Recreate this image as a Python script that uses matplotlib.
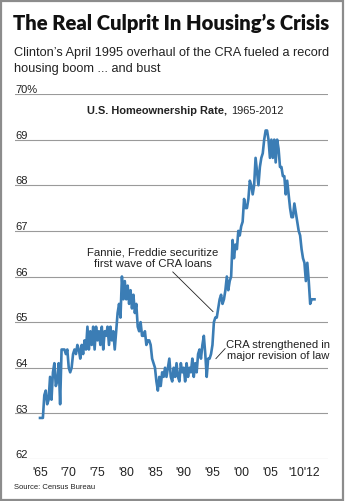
import numpy as np
import matplotlib.pyplot as plt
from matplotlib.patches import Rectangle

# quarterly homeownership rate (%), Census Bureau
rate_60s = [62.9, 62.9, 62.9, 63.4,  63.5, 63.2, 63.3, 63.8,  63.3, 63.9, 64.1, 63.6,
            63.7, 64.1, 63.2, 64.4,  64.4, 64.4, 64.3, 64.4]
rate_70s = [64.0, 63.9, 64.0, 64.3,  64.4, 64.3, 64.5, 64.4,  64.2, 64.5, 64.3, 64.6,
            64.4, 64.9, 64.4, 64.8,  64.5, 64.9, 64.4, 64.9,  64.6, 64.8, 64.5, 64.9,
            64.4, 64.8, 64.7, 64.9,  64.5, 64.9, 64.6, 64.8,  64.4, 64.8, 65.2, 65.4,
            65.1, 66.0, 65.5, 65.9]
rate_80s = [65.5, 65.8, 65.4, 65.7,  65.3, 65.6, 65.2, 65.4,  64.9, 64.8, 65.0, 64.7,
            64.7, 64.8, 64.5, 64.6,  64.6, 64.5, 64.2, 64.1,  64.0, 63.7, 63.5, 63.8,
            63.6, 63.9, 63.8, 64.0,  63.8, 64.0, 64.2, 63.8,  63.7, 64.0, 63.8, 64.1,
            63.8, 63.7, 64.1, 63.9]
rate_90s = [64.0, 63.7, 64.1, 63.8,  64.0, 63.9, 64.2, 63.8,  64.1, 63.9, 64.3, 64.4,
            64.2, 64.5, 64.7, 64.3,  63.8, 64.2, 64.2, 64.3,  64.5, 65.0, 65.1, 65.1,
            65.3, 65.5, 65.6, 65.4,  65.5, 65.7, 66.0, 65.7,  65.9, 66.0, 66.8, 66.4,
            66.7, 66.6, 67.0, 66.9]
rate_00s = [67.1, 67.2, 67.7, 67.5,  67.5, 67.7, 68.1, 68.0,  67.8, 68.0, 68.6, 68.3,
            68.0, 68.4, 68.6, 68.7,  69.0, 69.2, 69.2, 69.0,  68.6, 69.0, 68.6, 69.0,
            68.5, 69.0, 68.8, 68.4,  68.4, 68.2, 68.2, 67.8,  68.1, 67.8, 67.5, 67.3,
            67.3, 67.6, 67.4, 67.2]
rate_10s = [67.0, 66.9, 66.6, 66.4,  66.3, 65.9, 66.3, 65.9,  65.4, 65.5, 65.5, 65.5]

rate = np.array(rate_60s + rate_70s + rate_80s + rate_90s + rate_00s + rate_10s)
quarters = 1965 + np.arange(len(rate)) / 4

# the last two years share one label
tick_years = [1965, 1970, 1975, 1980, 1985, 1990, 1995, 2000, 2005, 2011]
tick_labels = ["'65", "'70", "'75", "'80", "'85", "'90", "'95", "'00", "'05", "'10'12"]
grid_levels = [62, 63, 64, 65, 66, 67, 68, 69, 70]

BLUE = '#3b7db5'
GRID = '#9a9a9a'
TXT = '#222222'
plt.rcParams['font.family'] = ['Liberation Sans', 'DejaVu Sans']

fig = plt.figure(figsize=(3.45, 5.02), dpi=100)
ax = fig.add_axes([15/345, 1-460/502, 313/345, 365/502])

ax.plot(quarters, rate, color=BLUE, lw=1.9, solid_joinstyle='round', zorder=3)

for lv in grid_levels:
    ax.axhline(lv, color=GRID, lw=0.8, zorder=1)
    lab = '70%' if lv == 70 else str(lv)
    ax.text(0.0, lv + 0.04, lab, transform=ax.get_yaxis_transform(),
            ha='left', va='baseline', fontsize=8, color=TXT)

ax.set_xlim(1960.65, 2015.1)
ax.set_ylim(62, 70)
ax.set_xticks(tick_years)
ax.set_xticklabels(tick_labels, fontsize=8.8, color=TXT)
ax.tick_params(axis='x', length=0, pad=5)
ax.set_yticks([])
for s in ax.spines.values():
    s.set_visible(False)
ax.patch.set_alpha(0)

# chart heading inside the plot
ax.text(1997.5, 69.66, 'U.S. Homeownership Rate,', ha='right', va='center',
        fontsize=7.9, fontweight='bold', color=TXT)
ax.text(1998.2, 69.66, '1965-2012', ha='left', va='center', fontsize=7.9, color=TXT)

# annotations
ax.text(1984.6, 66.42, 'Fannie, Freddie securitize\nfirst wave of CRA loans',
        ha='center', va='center', fontsize=8.2, color=TXT, linespacing=1.1)
ax.plot([1988.1, 1995.1], [66.10, 65.23], color=TXT, lw=0.6, zorder=2)
ax.text(2006.4, 64.40, 'CRA strengthened in\nmajor revision of law',
        ha='center', va='center', fontsize=8.1, color=TXT, linespacing=1.1)
ax.plot([1997.2, 1995.6], [64.42, 64.2], color=TXT, lw=0.6, zorder=2)

# headline and subtitle
fig.text(13/345, 1-23/502, 'The Real Culprit In Housing\u2019s Crisis', ha='left', va='center',
         fontsize=14.6, fontweight='heavy', family=['Lato', 'DejaVu Sans'], color='#111111')
fig.text(14/345, 1-53/502, 'Clinton\u2019s April 1995 overhaul of the CRA fueled a record',
         ha='left', va='center', fontsize=9.2, color=TXT)
fig.text(14/345, 1-69/502, 'housing boom ... and bust',
         ha='left', va='center', fontsize=9.2, color=TXT)
fig.text(14/345, 1-488/502, 'Source: Census Bureau', ha='left', va='center',
         fontsize=5.5, color=TXT)

fig.patches.append(Rectangle((0.003, 0.002), 0.992, 0.995, transform=fig.transFigure,
                             fill=False, edgecolor='#8c8c8c', lw=1.6))

fig.savefig('out.png', dpi=100)
